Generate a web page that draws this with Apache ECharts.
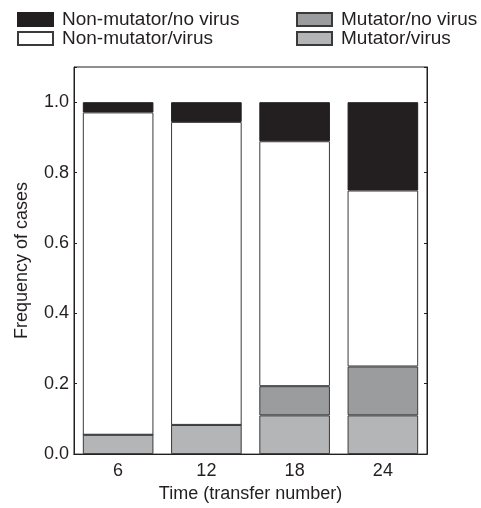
<!DOCTYPE html>
<html>
<head>
<meta charset="utf-8">
<script src="https://cdn.jsdelivr.net/npm/echarts@6/dist/echarts.min.js"></script>
<style>html,body{margin:0;padding:0;background:#fff}#c{width:481px;height:508px}</style>
</head>
<body>
<div id="c"></div>
<script>
var categories = ['6', '12', '18', '24'];
var mutatorVirus = [0.055, 0.083, 0.11, 0.11];
var mutatorNoVirus = [0, 0, 0.083, 0.139];
var nonMutatorVirus = [0.916, 0.861, 0.696, 0.50];
var nonMutatorNoVirus = [0.029, 0.056, 0.111, 0.251];
var yTicks = [0, 0.2, 0.4, 0.6, 0.8, 1.0];

var FONT = '"Liberation Sans", Arial, Helvetica, sans-serif';
var INK = '#231f20';
var chart = echarts.init(document.getElementById('c'), null, {renderer: 'canvas'});

function bar(name, data, color, border) {
  return {
    name: name, type: 'bar', stack: 'all', data: data,
    barCategoryGap: '20%',
    itemStyle: {color: color, borderColor: border, borderWidth: 1},
    emphasis: {disabled: true}
  };
}

var legendText = {fontFamily: FONT, fontSize: 19, color: INK, padding: [0, 0, 0, 4]};

chart.setOption({
  animation: false,
  textStyle: {fontFamily: FONT},
  legend: [
    {left: 17, top: 10, padding: 0, orient: 'vertical', itemWidth: 35, itemHeight: 13, itemGap: 0,
     selectedMode: false, icon: 'rect', textStyle: legendText,
     data: ['Non-mutator/no virus', 'Non-mutator/virus']},
    {left: 296, top: 10, padding: 0, orient: 'vertical', itemWidth: 35, itemHeight: 13, itemGap: 0,
     selectedMode: false, icon: 'rect', textStyle: legendText,
     data: ['Mutator/no virus', 'Mutator/virus']}
  ],
  grid: {left: 74, right: 54, top: 67, bottom: 49, show: true, borderColor: INK, borderWidth: 1, containLabel: false},
  xAxis: [
    {type: 'category', data: categories, position: 'bottom',
     name: 'Time (transfer number)', nameLocation: 'middle', nameGap: 28,
     nameTextStyle: {fontFamily: FONT, fontSize: 18, color: INK},
     axisLine: {lineStyle: {color: INK, width: 1}},
     axisTick: {inside: true, length: 3, alignWithLabel: true, lineStyle: {color: INK}},
     axisLabel: {fontFamily: FONT, fontSize: 18, color: INK, margin: 8}},
    {type: 'category', data: categories, position: 'top',
     axisLine: {lineStyle: {color: INK, width: 1}},
     axisTick: {inside: true, length: 3, alignWithLabel: true, lineStyle: {color: INK}},
     axisLabel: {show: false}}
  ],
  yAxis: [
    {type: 'value', min: 0, max: 1.1, interval: 0.2, position: 'left',
     name: 'Frequency of cases', nameLocation: 'middle', nameGap: 43,
     nameTextStyle: {fontFamily: FONT, fontSize: 18, color: INK},
     splitLine: {show: false},
     axisLine: {show: true, lineStyle: {color: INK, width: 1}},
     axisTick: {show: true, inside: true, length: 3, lineStyle: {color: INK}},
     axisLabel: {fontFamily: FONT, fontSize: 18, color: INK, margin: 5,
       formatter: function (v) {
         for (var i = 0; i < yTicks.length; i++) if (Math.abs(v - yTicks[i]) < 1e-6) return yTicks[i].toFixed(1);
         return '';
       }}},
    {type: 'value', min: 0, max: 1.1, interval: 0.2, position: 'right',
     splitLine: {show: false},
     axisLine: {show: true, lineStyle: {color: INK, width: 1}},
     axisTick: {show: true, inside: true, length: 3, lineStyle: {color: INK}},
     axisLabel: {show: false}}
  ],
  series: [
    bar('Mutator/virus', mutatorVirus, '#b4b5b7', '#3a3a3a'),
    bar('Mutator/no virus', mutatorNoVirus, '#9b9c9e', '#3a3a3a'),
    bar('Non-mutator/virus', nonMutatorVirus, '#ffffff', '#3a3a3a'),
    bar('Non-mutator/no virus', nonMutatorNoVirus, INK, INK)
  ]
});
</script>
</body>
</html>
